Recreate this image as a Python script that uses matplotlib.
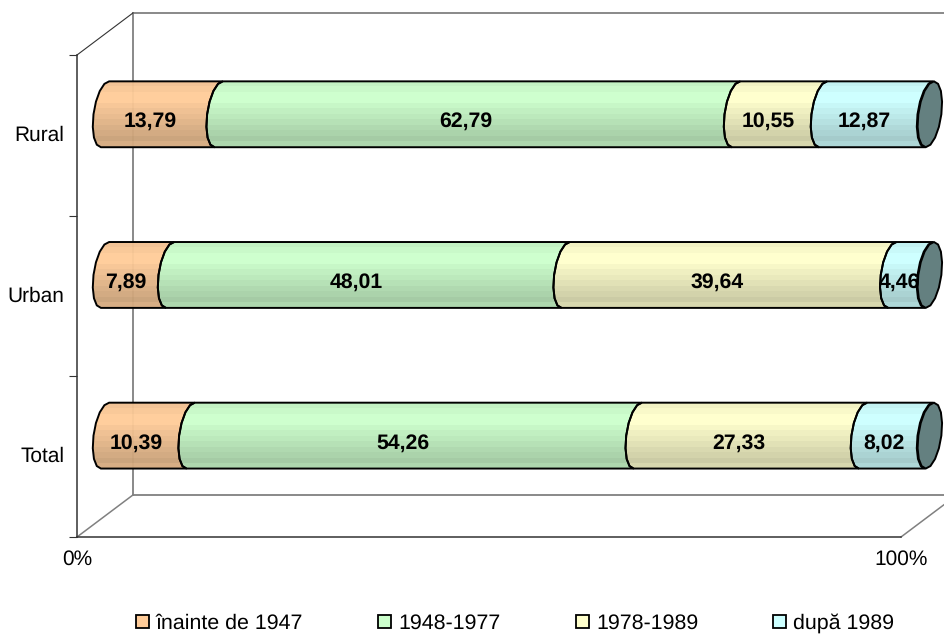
import numpy as np
import matplotlib
matplotlib.use("Agg")
import matplotlib.pyplot as plt
from matplotlib.patches import Patch, PathPatch
from matplotlib.path import Path
from matplotlib.transforms import ScaledTranslation

plt.rcParams['font.family'] = ['Liberation Sans', 'DejaVu Sans']
plt.rcParams['text.hinting'] = 'none'

categories = ["Total", "Urban", "Rural"]
series_names = ["înainte de 1947", "1948-1977", "1978-1989", "după 1989"]
before_1947 = [10.39, 7.89, 13.79]
from_1948 = [54.26, 48.01, 62.79]
from_1978 = [27.33, 39.64, 10.55]
after_1989 = [8.02, 4.46, 12.87]
series_values = [before_1947, from_1948, from_1978, after_1989]
series_colors = ["#FFCC99", "#CCFFCC", "#FFFFCC", "#CCFFFF"]
x_tick_labels = ["0%", "100%"]

# vertical look of the bars, top to bottom
band_shades = [0.95, 0.98, 1.0, 1.0, 0.97, 0.94, 0.91, 0.88, 0.85, 0.82, 0.79, 0.84]

# 3D look, in data units
depth_x = 3.4
depth_y = 0.131
bar_h = 0.41
cap_a = 1.4
cap_s = 0.5
label_dx = 2.0
label_dy = 0.045


def arc(cx, cy, start, stop):
    t = np.radians(np.linspace(start, stop, 9))
    x = cx + cap_a * np.cos(t) + cap_s * np.sin(t)
    y = cy + bar_h / 2 * np.sin(t)
    return np.column_stack([x, y])


def draw_segment(ax, x0, x1, cy, color):
    verts = np.vstack([arc(x0, cy, 90, 270), arc(x1, cy, 270, 90)])
    patch = PathPatch(Path(np.vstack([verts, verts[0]]), closed=True), fc="none", ec="black",
                      lw=1.4, zorder=4, clip_on=False)
    ax.add_patch(patch)
    rgb = np.array(matplotlib.colors.to_rgb(color))
    shade = np.array(band_shades)[:, None, None] * rgb[None, None, :]
    im = ax.imshow(shade, extent=(x0 - 3, x1 + 3, cy - bar_h / 2, cy + bar_h / 2), aspect="auto",
                   interpolation="nearest", alpha=0.96, zorder=3)
    im.set_clip_box(fig.bbox)
    im.set_clip_path(patch)


fig = plt.figure(figsize=(9.45, 6.34), dpi=100)
ax = fig.add_axes([77 / 945, 97 / 634, 824 / 945, 482 / 634])

# back wall and floor
wall = "#808080"
back_x = 2 * depth_x
back_y = 2 * depth_y
ax.plot([back_x, back_x], [-0.5 + back_y, 2.5 + back_y], color=wall, lw=1.3, clip_on=False, zorder=1)
ax.plot([back_x, 100 + back_x], [2.5 + back_y, 2.5 + back_y], color=wall, lw=1.3, clip_on=False, zorder=1)
ax.plot([back_x, 100 + back_x], [-0.5 + back_y, -0.5 + back_y], color=wall, lw=1.3, clip_on=False, zorder=1)
ax.plot([0, back_x], [-0.5, -0.5 + back_y], color=wall, lw=1.1, clip_on=False, zorder=1)
ax.plot([100, 100 + back_x], [-0.5, -0.5 + back_y], color=wall, lw=1.1, clip_on=False, zorder=1)
ax.plot([0, back_x], [2.5, 2.5 + back_y], color="#333333", lw=0.8, clip_on=False, zorder=1)

for i, cat in enumerate(categories):
    cy = i + depth_y
    left = 0
    for values, color in zip(series_values, series_colors):
        v = values[i]
        draw_segment(ax, left + depth_x, left + v + depth_x, cy, color)
        ax.text(left + v / 2 + label_dx, cy - label_dy, f"{v:.2f}".replace(".", ","), ha="center",
                va="center", fontsize=15.3, fontweight="bold", color="black", zorder=7)
        left += v
    # end cap of the cylinder
    end = np.vstack([arc(left + depth_x + 0.1, cy, 0, 180), arc(left + depth_x + 0.1, cy, 180, 360)[1:]])
    ax.add_patch(PathPatch(Path(end, closed=True), fc="#648080", ec="black", lw=1.4, zorder=5, clip_on=False))

ax.set_xlim(0, 100)
ax.set_ylim(-0.5, 2.5)
ax.patch.set_alpha(0)
ax.spines["top"].set_visible(False)
ax.spines["right"].set_visible(False)
ax.spines["left"].set_color("#333333")
ax.spines["bottom"].set_color("#333333")
ax.spines["left"].set_linewidth(1.1)
ax.spines["bottom"].set_linewidth(1.1)

ax.set_yticks(range(len(categories)))
ax.set_yticklabels(categories, fontsize=15)
ax.set_yticks([-0.5, 0.5, 1.5, 2.5], minor=True)
ax.tick_params(axis="y", which="major", length=0, pad=9)
ax.tick_params(axis="y", which="minor", length=6, width=0.8, color="#333333")
for lab in ax.get_yticklabels():
    lab.set_transform(lab.get_transform() + ScaledTranslation(0, 2 / 100, fig.dpi_scale_trans))
ax.set_xticks([0, 100])
ax.set_xticklabels(x_tick_labels, fontsize=15)
ax.tick_params(axis="x", length=0, pad=9)

handles = [Patch(fc=c, ec="black", lw=1.3) for c in series_colors]
fig.legend(handles, series_names, loc="lower center", ncol=4, frameon=False, fontsize=15.4,
           handlelength=0.62, handleheight=0.58, handletextpad=0.33, columnspacing=3.5,
           bbox_to_anchor=(515 / 945, -0.029))

fig.savefig("out.png", dpi=100)
